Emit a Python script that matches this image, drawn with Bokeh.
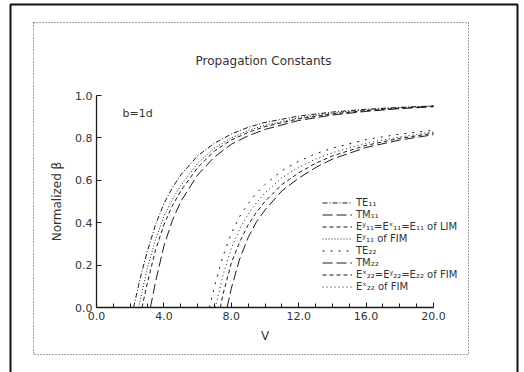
from bokeh.plotting import figure
from bokeh.models import (Label, BoxAnnotation, Legend, LegendItem, FixedTicker,
                          CustomJSTickFormatter, Range1d)
from bokeh.embed import file_html
from bokeh.resources import INLINE

# ---------------- data ----------------
te11_v = [2.2, 2.6, 3.0, 3.5, 4.0, 4.5, 5.0, 6.0, 7.0, 8.0, 9.0, 10.0, 12.0, 14.0, 16.0, 18.0, 20.0]
te11_b = [0.0, 0.14, 0.26, 0.39, 0.49, 0.565, 0.625, 0.715, 0.775, 0.818, 0.85, 0.873, 0.903, 0.922, 0.935, 0.944, 0.951]

fim11_v = [2.5, 3.0, 3.5, 4.0, 4.5, 5.0, 6.0, 7.0, 8.0, 9.0, 10.0, 12.0, 14.0, 16.0, 18.0, 20.0]
fim11_b = [0.0, 0.18, 0.32, 0.43, 0.51, 0.575, 0.68, 0.752, 0.8, 0.835, 0.86, 0.895, 0.917, 0.932, 0.942, 0.95]

lim11_v = [2.7, 3.0, 3.5, 4.0, 4.5, 5.0, 6.0, 7.0, 8.0, 9.0, 10.0, 12.0, 14.0, 16.0, 18.0, 20.0]
lim11_b = [0.0, 0.11, 0.27, 0.39, 0.48, 0.55, 0.66, 0.738, 0.79, 0.826, 0.853, 0.89, 0.913, 0.929, 0.94, 0.949]

tm11_v = [3.2, 3.5, 4.0, 4.5, 5.0, 6.0, 7.0, 8.0, 9.0, 10.0, 12.0, 14.0, 16.0, 18.0, 20.0]
tm11_b = [0.0, 0.12, 0.29, 0.41, 0.5, 0.625, 0.71, 0.77, 0.81, 0.84, 0.882, 0.908, 0.925, 0.938, 0.947]

te22_v = [6.7, 7.0, 7.5, 8.0, 8.5, 9.0, 9.5, 10.0, 11.0, 12.0, 13.0, 14.0, 16.0, 18.0, 20.0]
te22_b = [0.0, 0.10, 0.24, 0.35, 0.43, 0.49, 0.54, 0.58, 0.645, 0.69, 0.725, 0.752, 0.792, 0.818, 0.836]

fimx22_v = [7.05, 7.5, 8.0, 8.5, 9.0, 9.5, 10.0, 11.0, 12.0, 13.0, 14.0, 16.0, 18.0, 20.0]
fimx22_b = [0.0, 0.15, 0.28, 0.37, 0.44, 0.495, 0.54, 0.612, 0.662, 0.70, 0.73, 0.775, 0.805, 0.828]

fim22_v = [7.35, 7.5, 8.0, 8.5, 9.0, 9.5, 10.0, 11.0, 12.0, 13.0, 14.0, 16.0, 18.0, 20.0]
fim22_b = [0.0, 0.06, 0.21, 0.31, 0.39, 0.45, 0.5, 0.58, 0.635, 0.68, 0.715, 0.765, 0.798, 0.822]

tm22_v = [7.75, 8.0, 8.5, 9.0, 9.5, 10.0, 11.0, 12.0, 13.0, 14.0, 16.0, 18.0, 20.0]
tm22_b = [0.0, 0.09, 0.23, 0.33, 0.405, 0.46, 0.55, 0.61, 0.66, 0.70, 0.755, 0.79, 0.815]

x_ticks = [0, 4, 8, 12, 16, 20]
x_minor = list(range(0, 21))
y_ticks = [0.0, 0.2, 0.4, 0.6, 0.8, 1.0]

labels = ["TE₁₁", "TM₁₁", "Eʸ₁₁=Eˣ₁₁=E₁₁ of LIM", "Eʸ₁₁ of FIM",
          "TE₂₂", "TM₂₂", "Eˣ₂₂=Eʸ₂₂=E₂₂ of FIM", "Eˣ₂₂ of FIM"]

# ---------------- layout (canvas pixels) ----------------
W, H = 524, 372
XL, XR = 96, 433     # pixel of V=0 and V=20
YB, YT = 307, 95     # pixel of beta=0 and beta=1
XMAX, YMAX = 20.0, 1.0
SX = (XR - XL) / XMAX
SY = (YB - YT) / YMAX

def dx(px):
    return (px - XL) / SX

def dy(py):
    return (YB - py) / SY

FONT = "DejaVu Sans"
TXT = "#333333"
INK = "#1a1a1a"

p = figure(width=W, height=H, output_backend="svg", toolbar_location=None, title=None,
           x_range=Range1d(dx(0), dx(W)), y_range=Range1d(dy(H), dy(0)),
           min_border_left=0, min_border_right=0, min_border_top=0, min_border_bottom=0)
p.outline_line_color = None
p.grid.visible = False
p.background_fill_color = "white"
p.border_fill_color = "white"

# axes drawn at V=0 and beta=0
xa = p.xaxis[0]
xa.ticker = FixedTicker(ticks=x_ticks, minor_ticks=x_minor)
xa.formatter = CustomJSTickFormatter(code="return tick.toFixed(1);")
xa.axis_label = "V"
xa.fixed_location = 0
xa.bounds = (0, XMAX)
ya = p.yaxis[0]
ya.ticker = FixedTicker(ticks=y_ticks, minor_ticks=[])
ya.formatter = CustomJSTickFormatter(code="return tick.toFixed(1);")
ya.axis_label = "Normalized β"
ya.fixed_location = 0
ya.bounds = (0, YMAX)
for ax in (xa, ya):
    ax.axis_line_color = INK
    ax.major_tick_line_color = INK
    ax.minor_tick_line_color = INK
    ax.major_tick_in = 5
    ax.major_tick_out = 0
    ax.minor_tick_in = 4
    ax.minor_tick_out = 0
    ax.major_label_text_font = FONT
    ax.major_label_text_font_size = "11px"
    ax.major_label_text_color = TXT
    ax.axis_label_text_font = FONT
    ax.axis_label_text_font_size = "12px"
    ax.axis_label_text_font_style = "normal"
    ax.axis_label_text_color = TXT
    ax.major_label_standoff = 4
xa.axis_line_width = 1.6
ya.axis_line_width = 1.3
xa.axis_label_standoff = 6
ya.axis_label_standoff = 8

# curves
styles = dict(line_color=INK, line_width=1)
r_te11 = p.line(te11_v, te11_b, line_dash="5 2 1 2", **styles)
r_tm11 = p.line(tm11_v, tm11_b, line_dash="10 4", **styles)
r_lim11 = p.line(lim11_v, lim11_b, line_dash="4 3", **styles)
r_fim11 = p.line(fim11_v, fim11_b, line_dash="1 2", **styles)
r_te22 = p.line(te22_v, te22_b, line_dash="2 6", **styles)
r_tm22 = p.line(tm22_v, tm22_b, line_dash="10 4", **styles)
r_fim22 = p.line(fim22_v, fim22_b, line_dash="4 3", **styles)
r_fimx22 = p.line(fimx22_v, fimx22_b, line_dash="1 3", **styles)

rends = [r_te11, r_tm11, r_lim11, r_fim11, r_te22, r_tm22, r_fim22, r_fimx22]
items = [LegendItem(label=l, renderers=[r]) for l, r in zip(labels, rends)]
legend = Legend(items=items, location=(322, H - 197 - 95), margin=0, padding=0, spacing=1,
                glyph_width=30, glyph_height=11, label_height=11, label_standoff=4,
                label_text_font=FONT, label_text_font_size="10px", label_text_color=TXT,
                border_line_color=None, background_fill_alpha=0)
p.add_layout(legend)

# texts
p.add_layout(Label(x=dx(263), y=dy(60), text="Propagation Constants",
                   text_align="center", text_baseline="middle",
                   text_font=FONT, text_font_size="12px", text_color=TXT))
p.add_layout(Label(x=dx(122), y=dy(113), text="b=1d",
                   text_align="left", text_baseline="middle",
                   text_font=FONT, text_font_size="11px", text_color=TXT))

# frames
p.add_layout(BoxAnnotation(left=dx(33), right=dx(468), top=dy(22), bottom=dy(354),
                           fill_alpha=0, line_color="#444444", line_alpha=1.0,
                           line_width=1, line_dash="1 2"))
p.add_layout(BoxAnnotation(left=dx(10), right=dx(517), top=dy(4), bottom=dy(390),
                           fill_alpha=0, line_color="#111111", line_alpha=1.0, line_width=2))

open("out.html", "w").write(file_html(p, INLINE))
